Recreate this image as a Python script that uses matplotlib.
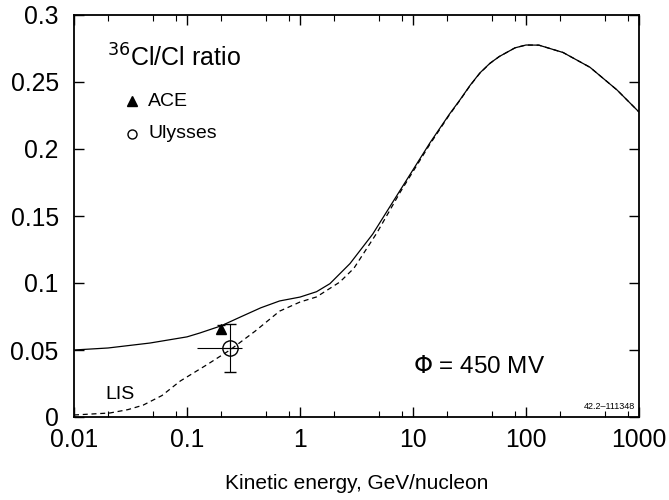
import numpy as np
import matplotlib
matplotlib.use('Agg')
import matplotlib.pyplot as plt
from matplotlib.ticker import FixedLocator, NullFormatter

plt.rcParams['font.family'] = ['Liberation Sans', 'DejaVu Sans']

# Modulated ratio (phi = 450 MV)
e_mod = [0.01, 0.02, 0.047, 0.1, 0.13, 0.2, 0.3, 0.45, 0.66, 1.0, 1.4, 1.84, 2.77,
         4.4, 7.67, 14.1, 21, 26, 32, 39, 48, 58, 80, 100, 130, 213, 368, 640, 1000]
r_mod = [0.050, 0.0515, 0.0552, 0.0598, 0.0627, 0.068, 0.0748, 0.0815, 0.0866, 0.0895,
         0.0935, 0.0995, 0.1145, 0.1365, 0.169, 0.2045, 0.226, 0.2366, 0.2475, 0.2567,
         0.2640, 0.269, 0.2755, 0.2776, 0.2775, 0.272, 0.261, 0.244, 0.2276]

# Local interstellar spectrum ratio
e_lis = [0.01, 0.0208, 0.03, 0.0408, 0.06, 0.087, 0.15, 0.24, 0.4, 0.66, 1.0, 1.4,
         2.25, 3.0, 4.8, 7.67, 14.1, 21, 26, 32, 39, 48, 58, 80, 100, 130, 213, 368,
         640, 1000]
r_lis = [0.0015, 0.003, 0.0055, 0.0088, 0.016, 0.0268, 0.039, 0.050, 0.064, 0.079,
         0.0858, 0.0896, 0.1007, 0.111, 0.1375, 0.1675, 0.2035, 0.2255, 0.2363,
         0.2473, 0.2565, 0.2639, 0.269, 0.2755, 0.2776, 0.2775, 0.272, 0.261, 0.244,
         0.2276]

# data points
ace_e, ace_r, ace_err = 0.2, 0.066, 0.0025
uly_e, uly_r = 0.24, 0.0515
uly_xerr = [[0.24 - 0.123], [0.305 - 0.24]]
uly_yerr = [[0.0515 - 0.0336], [0.0694 - 0.0515]]

xticks = [0.01, 0.1, 1, 10, 100, 1000]
xlabels = ['0.01', '0.1', '1', '10', '100', '1000']
yticks = [0, 0.05, 0.1, 0.15, 0.2, 0.25, 0.3]
ylabels = ['0', '0.05', '0.1', '0.15', '0.2', '0.25', '0.3']

fig = plt.figure(figsize=(6.69, 5.0), dpi=100)
ax = fig.add_axes([74/669, 83/500, 565/669, 402/500])

ax.plot(e_mod, r_mod, color='black', lw=0.9)
ax.plot(e_lis, r_lis, color='black', lw=0.9, ls=(0, (4, 3)))

ax.errorbar([ace_e], [ace_r], yerr=[ace_err], fmt='^', color='black', ms=7,
            elinewidth=0.8, capsize=3)
# Ulysses: vertical bar with caps, horizontal bar without
ax.errorbar([uly_e], [uly_r], yerr=uly_yerr, fmt='o', mfc='none',
            mec='black', color='black', ms=11, elinewidth=0.8, capsize=4)
ax.errorbar([uly_e], [uly_r], xerr=uly_xerr, fmt='none', color='black',
            elinewidth=0.8, capsize=0)
ax.plot([uly_e], [uly_r], '+', color='black', ms=11, mew=0.8)

ax.set_xscale('log')
ax.set_xlim(0.01, 1000)
ax.set_ylim(0, 0.3)
ax.xaxis.set_major_locator(FixedLocator(xticks))
ax.set_xticklabels(xlabels)
minors = [m * 10.0**d for d in range(-2, 3) for m in (2, 5, 8)]
ax.xaxis.set_minor_locator(FixedLocator(minors))
ax.xaxis.set_minor_formatter(NullFormatter())
ax.set_yticks(yticks)
ax.set_yticklabels(ylabels)
ax.tick_params(which='major', direction='in', length=7, width=1, top=True, right=True,
               labelsize=17.8)
ax.tick_params(axis='x', which='major', pad=8)
ax.tick_params(axis='y', which='major', pad=11)
ax.tick_params(which='minor', direction='in', length=4, width=0.8, top=True, right=True)
for s in ax.spines.values():
    s.set_linewidth(1.3)

ax.set_xlabel('Kinetic energy, GeV/nucleon', fontsize=15, labelpad=16)

ax.text(0.0197, 0.268, r'$^{36}$Cl/Cl ratio', fontsize=18, va='center')
ax.plot([0.0326], [0.2355], '^', color='black', ms=6.5)
ax.text(0.0452, 0.2355, 'ACE', fontsize=14, va='center')
ax.plot([0.0326], [0.2115], 'o', mfc='none', mec='black', ms=6.5, mew=1.0)
ax.text(0.0452, 0.2115, 'Ulysses', fontsize=14, va='center')

ax.text(10, 0.037, r'$\Phi$ = 450 MV', fontsize=17.5, va='center')
ax.text(0.019, 0.0165, 'LIS', fontsize=14, va='center')
ax.text(0.993, 0.014, '42.2\u2013111348', fontsize=6.5, ha='right', va='bottom',
        transform=ax.transAxes)

fig.savefig('out.png', dpi=100)
